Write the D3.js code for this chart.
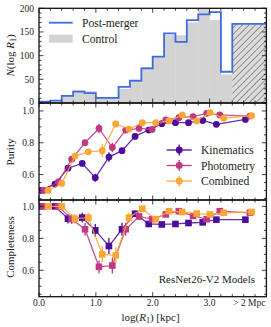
<!DOCTYPE html>
<html>
<head>
<meta charset="utf-8">
<script src="https://cdn.jsdelivr.net/npm/d3@7"></script>
<style>
  body { margin: 0; background: #fff; }
  svg text { font-family: "Liberation Serif", "DejaVu Serif", serif; fill: #222; }
</style>
</head>
<body>
<svg id="chart" width="271" height="327"></svg>
<script>
// histogram bins (log R1), last bin is the "> 2 Mpc" bin
const binEdges = [0.0, 0.2, 0.4, 0.6, 0.8, 1.0, 1.2, 1.4, 1.6, 1.8, 2.0, 2.2, 2.4, 2.6, 2.8, 3.0, 3.2, 3.4, 4.0];
const postMerger = [3, 5, 15, 24, 21, 11, 11, 34, 47, 73, 98, 147, 129, 175, 187, 192, 66, 167];
const control = [2, 3, 15, 27, 25, 12, 12, 30, 44, 76, 98, 144, 143, 170, 199, 175, 60, 167];

// purity / completeness per model
const kinX = [0.02, 0.28, 0.51, 0.76, 0.99, 1.23, 1.46, 1.69, 1.93, 2.16, 2.40, 2.63, 2.88, 3.12, 3.63];
const kinPur = [0.50, 0.54, 0.64, 0.67, 0.58, 0.71, 0.75, 0.84, 0.88, 0.92, 0.926, 0.926, 0.94, 0.916, 0.947];
const kinPurErr = [0.01, 0.02, 0.015, 0.015, 0.025, 0.03, 0.015, 0.012, 0.01, 0.01, 0.01, 0.01, 0.01, 0.01, 0.01];
const kinComp = [1.0, 1.0, 0.923, 0.93, 0.85, 0.752, 0.857, 0.954, 0.89, 0.887, 0.89, 0.896, 0.90, 0.917, 0.917];
const kinCompErr = [0.01, 0.01, 0.03, 0.03, 0.04, 0.05, 0.04, 0.02, 0.015, 0.01, 0.01, 0.01, 0.01, 0.01, 0.01];

const phoX = [0.08, 0.34, 0.575, 0.81, 1.055, 1.29, 1.525, 1.76, 1.99, 2.23, 2.46, 2.71, 2.95, 3.18, 3.71];
const phoPur = [0.50, 0.554, 0.697, 0.80, 0.89, 0.77, 0.88, 0.89, 0.884, 0.943, 0.958, 0.964, 0.985, 0.975, 0.968];
const phoPurErr = [0.01, 0.02, 0.015, 0.015, 0.03, 0.03, 0.015, 0.012, 0.01, 0.01, 0.01, 0.01, 0.01, 0.01, 0.01];
const phoComp = [1.0, 1.0, 0.92, 0.857, 0.622, 0.63, 0.857, 0.937, 0.92, 0.95, 0.97, 0.94, 0.92, 0.97, 0.96];
const phoCompErr = [0.01, 0.01, 0.03, 0.04, 0.04, 0.05, 0.04, 0.02, 0.015, 0.01, 0.01, 0.01, 0.01, 0.01, 0.01];

const comX = [0.16, 0.40, 0.633, 0.867, 1.113, 1.35, 1.583, 1.817, 2.053, 2.287, 2.52, 2.774, 3.008, 3.25, 3.74];
const comPur = [0.50, 0.544, 0.716, 0.743, 0.75, 0.918, 0.886, 0.926, 0.926, 0.937, 0.975, 0.937, 0.99, 0.954, 0.97];
const comPurErr = [0.01, 0.02, 0.015, 0.015, 0.04, 0.015, 0.012, 0.01, 0.01, 0.01, 0.01, 0.01, 0.01, 0.01, 0.01];
const comComp = [1.0, 1.0, 0.923, 0.93, 0.70, 0.694, 0.93, 0.985, 0.92, 0.97, 0.965, 0.955, 0.95, 0.96, 0.965];
const comCompErr = [0.01, 0.01, 0.03, 0.03, 0.05, 0.05, 0.03, 0.015, 0.015, 0.01, 0.01, 0.01, 0.01, 0.01, 0.01];

const xTickVals = [0, 1, 2, 3];
const xTickLabels = ["0.0", "1.0", "2.0", "3.0"];
const farLabel = "> 2 Mpc";

const models = [
	{ name: "Kinematics", color: "#4c0c9e", x: kinX, pur: kinPur, purErr: kinPurErr, comp: kinComp, compErr: kinCompErr },
	{ name: "Photometry", color: "#bf3984", x: phoX, pur: phoPur, purErr: phoPurErr, comp: phoComp, compErr: phoCompErr },
	{ name: "Combined", color: "#fca636", x: comX, pur: comPur, purErr: comPurErr, comp: comComp, compErr: comCompErr }
];

const svg = d3.select("#chart");
const left = 39, right = 266.4;
const panels = [
	{ top: 8.3, bottom: 103, domain: [0, 200] },
	{ top: 103, bottom: 200, domain: [0.44, 1.05] },
	{ top: 200, bottom: 296.7, domain: [0.435, 1.04] }
];

const x = d3.scaleLinear().domain([0, 4]).range([left, right]);
const ys = panels.map((p) => d3.scaleLinear().domain(p.domain).range([p.bottom, p.top]));

// clip paths
panels.forEach((p, i) => {
	svg.append("clipPath").attr("id", "clip" + i)
		.append("rect")
		.attr("x", left).attr("y", p.top)
		.attr("width", right - left).attr("height", p.bottom - p.top);
});

// hatch pattern
const pat = svg.append("defs").append("pattern")
	.attr("id", "hatch")
	.attr("patternUnits", "userSpaceOnUse")
	.attr("width", 4.6).attr("height", 4.6)
	.attr("patternTransform", "rotate(45)");
pat.append("rect").attr("width", 4.6).attr("height", 4.6).attr("fill", "#dcdcdc");
pat.append("line").attr("x1", 0).attr("y1", 0).attr("x2", 0).attr("y2", 4.6)
	.attr("stroke", "#333").attr("stroke-width", 0.9);

/* ---- top panel: histogram ---- */
const y0 = ys[0];
const hist = svg.append("g").attr("clip-path", "url(#clip0)");
const last = control.length - 1;

hist.selectAll("rect.ctrl")
	.data(control)
	.enter()
	.append("rect")
	.attr("class", "ctrl")
	.attr("x", (d, i) => x(binEdges[i]))
	.attr("width", (d, i) => x(binEdges[i + 1]) - x(binEdges[i]) + 0.3)
	.attr("y", (d) => y0(d))
	.attr("height", (d) => y0(0) - y0(d))
	.attr("fill", (d, i) => i === last ? "url(#hatch)" : "#d3d3d3");

const stepPts = [[x(binEdges[0]), y0(0)]];
postMerger.forEach((v, i) => {
	stepPts.push([x(binEdges[i]), y0(v)]);
	stepPts.push([x(binEdges[i + 1]), y0(v)]);
});
hist.append("path")
	.attr("d", d3.line()(stepPts))
	.attr("fill", "none")
	.attr("stroke", "#3f6be0")
	.attr("stroke-width", 1.8);

// legend
svg.append("line")
	.attr("x1", 49).attr("x2", 72.7).attr("y1", 22.7).attr("y2", 22.7)
	.attr("stroke", "#3f6be0").attr("stroke-width", 1.8);
svg.append("text").attr("x", 82).attr("y", 26.7).attr("font-size", 11.6).text("Post-merger");
svg.append("rect").attr("x", 49).attr("y", 34.7).attr("width", 23.7).attr("height", 8)
	.attr("fill", "#d3d3d3");
svg.append("text").attr("x", 82).attr("y", 42.7).attr("font-size", 11.6).text("Control");

/* ---- purity / completeness panels ---- */
function drawModels(panelIdx, key, errKey, square) {
	const y = ys[panelIdx];
	const g = svg.append("g").attr("clip-path", "url(#clip" + panelIdx + ")");
	models.forEach((m) => {
		const pts = m.x.map((v, i) => ({ x: v, y: m[key][i], e: m[errKey][i] }));
		g.append("path")
			.attr("d", d3.line().x((d) => x(d.x)).y((d) => y(d.y))(pts))
			.attr("fill", "none")
			.attr("stroke", m.color)
			.attr("stroke-opacity", 0.85)
			.attr("stroke-width", 1.3);
		g.selectAll(null)
			.data(pts)
			.enter()
			.append("line")
			.attr("x1", (d) => x(d.x)).attr("x2", (d) => x(d.x))
			.attr("y1", (d) => y(d.y - d.e)).attr("y2", (d) => y(d.y + d.e))
			.attr("stroke", m.color)
			.attr("stroke-width", 1.3);
		if (square) {
			g.selectAll(null)
				.data(pts)
				.enter()
				.append("rect")
				.attr("x", (d) => x(d.x) - 3.3).attr("y", (d) => y(d.y) - 3.3)
				.attr("width", 6.6).attr("height", 6.6)
				.attr("fill", m.color);
		} else {
			g.selectAll(null)
				.data(pts)
				.enter()
				.append("circle")
				.attr("cx", (d) => x(d.x)).attr("cy", (d) => y(d.y))
				.attr("r", 3.4)
				.attr("fill", m.color);
		}
	});
}
drawModels(1, "pur", "purErr", false);
drawModels(2, "comp", "compErr", true);

// purity legend
const legY = [150, 165.5, 181];
models.forEach((m, i) => {
	const lg = svg.append("g");
	lg.append("line").attr("x1", 166.7).attr("x2", 191.7).attr("y1", legY[i]).attr("y2", legY[i])
		.attr("stroke", m.color).attr("stroke-width", 1.3);
	lg.append("line").attr("x1", 179.2).attr("x2", 179.2).attr("y1", legY[i] - 5.5).attr("y2", legY[i] + 5.5)
		.attr("stroke", m.color).attr("stroke-width", 1.3);
	lg.append("circle").attr("cx", 179.2).attr("cy", legY[i]).attr("r", 3.4).attr("fill", m.color);
	lg.append("text").attr("x", 201).attr("y", legY[i] + 4).attr("font-size", 11.6).text(m.name);
});

svg.append("text")
	.attr("x", 255).attr("y", 283)
	.attr("text-anchor", "end")
	.attr("font-size", 11)
	.text("ResNet26-V2 Models");

/* ---- axes, ticks ---- */
const yMajor = [[0, 50, 100, 150, 200], [0.6, 0.8, 1.0], [0.6, 0.8, 1.0]];
const yMinorStep = [10, 0.05, 0.05];
const yLabelFmt = [d3.format("d"), d3.format(".1f"), d3.format(".1f")];
const xMinor = d3.range(0, 4.01, 0.2).map((v) => +v.toFixed(1));

panels.forEach((p, i) => {
	const y = ys[i];
	const ax = svg.append("g").attr("stroke", "#111").attr("stroke-width", 0.8);
	const tick = (x1, y1, x2, y2) => ax.append("line").attr("x1", x1).attr("y1", y1).attr("x2", x2).attr("y2", y2);

	xMinor.forEach((v) => {
		const len = xTickVals.includes(v) ? 4.5 : 2.5;
		tick(x(v), p.bottom, x(v), p.bottom - len);
		tick(x(v), p.top, x(v), p.top + len);
	});

	const [lo, hi] = p.domain;
	const step = yMinorStep[i];
	for (let v = Math.ceil(lo / step) * step; v <= hi + 1e-9; v += step) {
		const vv = +v.toFixed(3);
		const isMajor = yMajor[i].some((m) => Math.abs(m - vv) < 1e-6);
		const len = isMajor ? 4.5 : 2.5;
		tick(left, y(vv), left + len, y(vv));
		tick(right, y(vv), right - len, y(vv));
	}

	yMajor[i].forEach((v) => {
		svg.append("text")
			.attr("x", 34).attr("y", y(v) + (i === 0 && v === 0 ? 1.6 : 3.3))
			.attr("text-anchor", "end")
			.attr("font-size", 9.5)
			.text(yLabelFmt[i](v));
	});

	svg.append("rect")
		.attr("x", left).attr("y", p.top)
		.attr("width", right - left).attr("height", p.bottom - p.top)
		.attr("fill", "none").attr("stroke", "#111").attr("stroke-width", 1.3);
});

// x tick labels
xTickVals.forEach((v, i) => {
	svg.append("text")
		.attr("x", x(v)).attr("y", 306)
		.attr("text-anchor", "middle")
		.attr("font-size", 9.5)
		.text(xTickLabels[i]);
});
svg.append("text")
	.attr("x", x(3.7)).attr("y", 306)
	.attr("text-anchor", "middle")
	.attr("font-size", 9.5)
	.text(farLabel);

// axis titles
const xt = svg.append("text")
	.attr("x", 150.5).attr("y", 320.5)
	.attr("text-anchor", "middle")
	.attr("font-size", 11);
xt.append("tspan").text("log(");
xt.append("tspan").attr("font-style", "italic").text("R");
xt.append("tspan").attr("font-size", 8).attr("dy", 2).text("1");
xt.append("tspan").attr("dy", -2).text(") [kpc]");

const yt0 = svg.append("text")
	.attr("transform", "translate(14,55.5) rotate(-90)")
	.attr("text-anchor", "middle")
	.attr("font-size", 11);
yt0.append("tspan").attr("font-style", "italic").text("N");
yt0.append("tspan").text("(log ");
yt0.append("tspan").attr("font-style", "italic").text("R");
yt0.append("tspan").attr("font-size", 8).attr("dy", 2).text("1");
yt0.append("tspan").attr("dy", -2).text(")");

svg.append("text")
	.attr("transform", "translate(14,152) rotate(-90)")
	.attr("text-anchor", "middle")
	.attr("font-size", 11)
	.text("Purity");

svg.append("text")
	.attr("transform", "translate(14,247) rotate(-90)")
	.attr("text-anchor", "middle")
	.attr("font-size", 11)
	.text("Completeness");
</script>
</body>
</html>
